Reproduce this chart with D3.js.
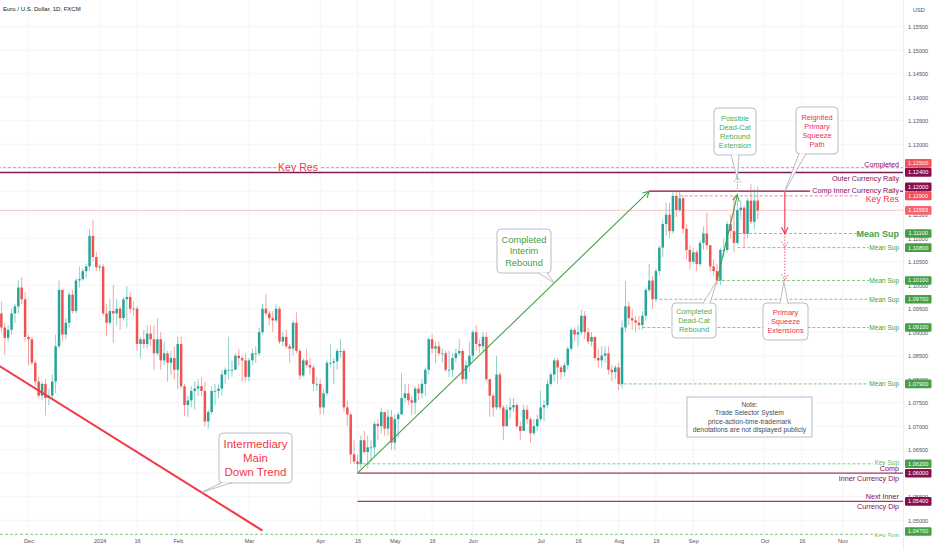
<!DOCTYPE html>
<meta charset="utf-8">

<script src="https://d3js.org/d3.v7.min.js"></script>

<div id="viz"></div>

<style>
  body { margin: 0; background: #fff; }
  svg { display: block; font-family: "Liberation Sans", Arial, sans-serif; }
  .axis path, .axis line { display: none; }
  .axis text { fill: #50535e; font-size: 5.6px; font-family: "Liberation Sans", Arial, sans-serif; }
</style>

<script>
// EUR/USD daily bars, one per weekday from startDay (open = previous close)
const startDay = "2023-11-20";
const prevClose = 1.0913;

const closes = [
  1.0940, 1.0910, 1.0888, 1.0905, 1.0940, 1.0955, 1.0995, 1.0970, 1.0890, // Nov
  1.0885, 1.0835, 1.0795, 1.0765, 1.0790, 1.0760, 1.0765, 1.0795, 1.0870, 1.0990, 1.0895,
  1.0920, 1.0980, 1.0945, 1.1010, 1.1013, 1.1030, 1.1040, 1.1105, 1.1060, 1.1038, // Dec
  1.1040, 1.0940, 1.0920, 1.0945, 1.0940, 1.0950, 1.0930, 1.0970, 1.0975, 1.0950, 1.0950, 1.0875,
  1.0885, 1.0875, 1.0897, 1.0885, 1.0855, 1.0885, 1.0840, 1.0855, 1.0835, 1.0845, 1.0820, // Jan
  1.0875, 1.0785, 1.0745, 1.0755, 1.0775, 1.0780, 1.0785, 1.0775, 1.0710, 1.0730, 1.0775,
  1.0775, 1.0780, 1.0810, 1.0820, 1.0820, 1.0820, 1.0850, 1.0845, 1.0840, 1.0805, // Feb
  1.0840, 1.0855, 1.0855, 1.0900, 1.0950, 1.0940, 1.0930, 1.0925, 1.0950, 1.0880, 1.0890,
  1.0870, 1.0865, 1.0920, 1.0860, 1.0808, 1.0840, 1.0830, 1.0825, 1.0790, 1.0790, // Mar
  1.0740, 1.0770, 1.0835, 1.0835, 1.0838, 1.0860, 1.0860, 1.0740, 1.0725, 1.0640, 1.0625,
  1.0620, 1.0670, 1.0645, 1.0655, 1.0655, 1.0705, 1.0700, 1.0730, 1.0695, 1.0720, 1.0665, // Apr
  1.0715, 1.0725, 1.0760, 1.0770, 1.0755, 1.0750, 1.0780, 1.0770, 1.0790, 1.0820, 1.0885, 1.0865,
  1.0870, 1.0855, 1.0855, 1.0820, 1.0820, 1.0845, 1.0855, 1.0860, 1.0800, 1.0830, 1.0850, // May
  1.0900, 1.0875, 1.0870, 1.0890, 1.0800, 1.0765, 1.0740, 1.0810, 1.0740, 1.0700,
  1.0735, 1.0740, 1.0745, 1.0700, 1.0690, 1.0735, 1.0715, 1.0685, 1.0700, 1.0715, // Jun
  1.0740, 1.0745, 1.0790, 1.0810, 1.0840, 1.0825, 1.0815, 1.0830, 1.0865, 1.0905, 1.0895, 1.0900,
  1.0935, 1.0900, 1.0880, 1.0890, 1.0845, 1.0840, 1.0850, 1.0855, 1.0820, 1.0815, 1.0825, // Jul
  1.0790, 1.0910, 1.0955, 1.0930, 1.0925, 1.0920, 1.0915, 1.0935, 1.0990, 1.1010, 1.0970,
  1.1030, 1.1080, 1.1130, 1.1150, 1.1115, 1.1190, 1.1160, 1.1185, 1.1120, 1.1075, 1.1050, // Aug
  1.1070, 1.1045, 1.1090, 1.1110, 1.1085, 1.1040, 1.1030, 1.1010, 1.1075, 1.1075,
  1.1130, 1.1115, 1.1090, 1.1160, 1.1165, 1.1110, 1.1180, 1.1135, 1.1180, 1.1159  // Sep
];

const highs = [
  1.0965, 1.0965, 1.0920, 1.0915, 1.0950, 1.0960, 1.1010, 1.1017, 1.0985,
  1.0895, 1.0890, 1.0840, 1.0805, 1.0795, 1.0800, 1.0780, 1.0810, 1.0895, 1.1010, 1.0990,
  1.0930, 1.0985, 1.0990, 1.1015, 1.1040, 1.1035, 1.1045, 1.1120, 1.1139, 1.1070,
  1.1045, 1.1045, 1.0960, 1.0970, 1.1000, 1.0970, 1.0955, 1.0975, 1.0998, 1.0985, 1.0965, 1.0955,
  1.0890, 1.0905, 1.0915, 1.0915, 1.0915, 1.0930, 1.0900, 1.0880, 1.0860, 1.0860, 1.0870,
  1.0890, 1.0890, 1.0790, 1.0765, 1.0785, 1.0795, 1.0800, 1.0805, 1.0795, 1.0735, 1.0785,
  1.0790, 1.0790, 1.0820, 1.0825, 1.0890, 1.0840, 1.0855, 1.0865, 1.0850, 1.0855,
  1.0845, 1.0865, 1.0870, 1.0910, 1.0960, 1.0981, 1.0945, 1.0945, 1.0960, 1.0955, 1.0900,
  1.0905, 1.0875, 1.0925, 1.0942, 1.0865, 1.0845, 1.0865, 1.0845, 1.0830, 1.0805,
  1.0800, 1.0780, 1.0840, 1.0875, 1.0845, 1.0865, 1.0885, 1.0865, 1.0755, 1.0730, 1.0670,
  1.0640, 1.0680, 1.0690, 1.0680, 1.0670, 1.0710, 1.0715, 1.0740, 1.0730, 1.0735, 1.0735,
  1.0725, 1.0730, 1.0812, 1.0790, 1.0790, 1.0765, 1.0785, 1.0790, 1.0800, 1.0825, 1.0890, 1.0895,
  1.0880, 1.0880, 1.0865, 1.0860, 1.0860, 1.0855, 1.0865, 1.0885, 1.0865, 1.0840, 1.0880,
  1.0905, 1.0915, 1.0885, 1.0900, 1.0900, 1.0785, 1.0770, 1.0850, 1.0815, 1.0745,
  1.0745, 1.0760, 1.0760, 1.0750, 1.0710, 1.0745, 1.0745, 1.0720, 1.0715, 1.0725,
  1.0775, 1.0755, 1.0800, 1.0815, 1.0845, 1.0845, 1.0830, 1.0835, 1.0870, 1.0910, 1.0910, 1.0915,
  1.0948, 1.0945, 1.0910, 1.0900, 1.0890, 1.0865, 1.0870, 1.0870, 1.0870, 1.0830, 1.0830,
  1.0835, 1.0925, 1.1009, 1.0965, 1.0950, 1.0935, 1.0935, 1.0945, 1.0995, 1.1045, 1.1020,
  1.1035, 1.1085, 1.1140, 1.1175, 1.1175, 1.1200, 1.1200, 1.1200, 1.1190, 1.1130, 1.1085,
  1.1080, 1.1075, 1.1095, 1.1125, 1.1155, 1.1080, 1.1055, 1.1045, 1.1080, 1.1100,
  1.1135, 1.1150, 1.1190, 1.1180, 1.1180, 1.1170, 1.1185, 1.1215, 1.1205, 1.1210
];

const lows = [
  1.0905, 1.0900, 1.0852, 1.0880, 1.0895, 1.0920, 1.0940, 1.0960, 1.0880,
  1.0830, 1.0830, 1.0785, 1.0760, 1.0755, 1.0723, 1.0745, 1.0755, 1.0770, 1.0865, 1.0880,
  1.0885, 1.0910, 1.0940, 1.0940, 1.0995, 1.1010, 1.1015, 1.1030, 1.1050, 1.1030,
  1.1030, 1.0935, 1.0892, 1.0915, 1.0877, 1.0915, 1.0905, 1.0925, 1.0910, 1.0940, 1.0935, 1.0860,
  1.0845, 1.0865, 1.0865, 1.0870, 1.0820, 1.0850, 1.0820, 1.0830, 1.0795, 1.0810, 1.0800,
  1.0780, 1.0780, 1.0722, 1.0720, 1.0740, 1.0735, 1.0765, 1.0765, 1.0700, 1.0695, 1.0725,
  1.0745, 1.0760, 1.0765, 1.0790, 1.0800, 1.0805, 1.0820, 1.0830, 1.0795, 1.0795,
  1.0795, 1.0830, 1.0835, 1.0850, 1.0895, 1.0935, 1.0915, 1.0900, 1.0920, 1.0875, 1.0870,
  1.0865, 1.0835, 1.0850, 1.0855, 1.0800, 1.0805, 1.0825, 1.0810, 1.0775, 1.0775,
  1.0725, 1.0725, 1.0765, 1.0825, 1.0790, 1.0820, 1.0845, 1.0730, 1.0700, 1.0620, 1.0620,
  1.0601, 1.0610, 1.0640, 1.0610, 1.0625, 1.0635, 1.0670, 1.0685, 1.0680, 1.0680, 1.0650,
  1.0650, 1.0675, 1.0725, 1.0750, 1.0745, 1.0725, 1.0725, 1.0755, 1.0760, 1.0765, 1.0810, 1.0855,
  1.0835, 1.0850, 1.0835, 1.0815, 1.0805, 1.0805, 1.0835, 1.0850, 1.0790, 1.0790, 1.0815,
  1.0840, 1.0860, 1.0855, 1.0860, 1.0795, 1.0720, 1.0720, 1.0735, 1.0735, 1.0670,
  1.0700, 1.0715, 1.0730, 1.0695, 1.0670, 1.0690, 1.0705, 1.0665, 1.0680, 1.0690,
  1.0710, 1.0710, 1.0740, 1.0785, 1.0795, 1.0790, 1.0800, 1.0805, 1.0820, 1.0860, 1.0880, 1.0870,
  1.0895, 1.0885, 1.0875, 1.0870, 1.0840, 1.0825, 1.0825, 1.0835, 1.0810, 1.0795, 1.0800,
  1.0777, 1.0780, 1.0900, 1.0915, 1.0905, 1.0900, 1.0905, 1.0905, 1.0925, 1.0985, 1.0950,
  1.0965, 1.1020, 1.1060, 1.1105, 1.1100, 1.1110, 1.1145, 1.1155, 1.1110, 1.1055, 1.1035,
  1.1045, 1.1030, 1.1040, 1.1075, 1.1075, 1.1030, 1.1020, 1.1000, 1.1000, 1.1060,
  1.1070, 1.1100, 1.1070, 1.1085, 1.1140, 1.1080, 1.1100, 1.1130, 1.1120, 1.1140
];

const lastPrice = 1.11593;

// axis ticks
const priceTicks = [1.155, 1.150, 1.145, 1.140, 1.135, 1.130, 1.125, 1.120, 1.115, 1.110, 1.105,
  1.100, 1.095, 1.090, 1.085, 1.080, 1.075, 1.070, 1.065, 1.060, 1.055, 1.050];
const timeTickDates = ["2023-12-01", "2024-01-01", "2024-01-16", "2024-02-01", "2024-03-01", "2024-04-01",
  "2024-04-16", "2024-05-01", "2024-05-16", "2024-06-03", "2024-07-01", "2024-07-16", "2024-08-01",
  "2024-08-16", "2024-09-02", "2024-10-01", "2024-10-16", "2024-11-01"];
const timeTickLabels = ["Dec", "2024", "16", "Feb", "Mar", "Apr", "16", "May", "16", "Jun", "Jul", "16",
  "Aug", "16", "Sep", "Oct", "16", "Nov"];

// drawn levels
const keyResLevels = [1.125, 1.119];
const keyResStarts = ["2023-11-20", "2024-08-27"];
const rallyLevels = [1.124, 1.120];
const rallyStarts = ["2023-11-20", "2024-08-14"];
const meanSupLevels = [1.111, 1.108, 1.101, 1.097, 1.091, 1.079];
const meanSupStarts = ["2024-09-18", "2024-09-19", "2024-09-11", "2024-08-19", "2024-08-12", "2024-08-01"];
const keySupLevels = [1.062, 1.047];
const keySupStarts = ["2024-04-16", "2023-11-20"];
const dipLevels = [1.060, 1.054];
const dipStarts = ["2024-04-16", "2024-04-16"];

// trend lines [date, price]
const downTrend = [["2023-11-20", 1.0830], ["2024-03-07", 1.0478]];
const interimRebound = [["2024-04-16", 1.0600], ["2024-08-14", 1.1200]];
const deadCat = [["2024-09-11", 1.1010], ["2024-09-19", 1.1192]];
const deadCatExt = [["2024-09-19", 1.1192], ["2024-09-19", 1.1232]];
const squeezeDay = "2024-10-09";
const squeezePath = [1.120, 1.111];
const squeezeExt = [1.111, 1.108, 1.101];

// ---------------------------------------------------------------
const W = 932, H = 550, plotR = 903, plotB = 537;

const svg = d3.select("#viz").append("svg")
  .attr("width", W).attr("height", H);

const parse = d3.timeParse("%Y-%m-%d");
const t0 = parse(startDay);
function dayIndex(s) {
  return d3.timeDay.range(t0, parse(s)).filter(d => d.getDay() % 6 !== 0).length;
}

const x = d3.scaleLinear().domain([9, 249]).range([28.5, 842.5]);
const y = d3.scaleLinear().domain([1.155, 1.050]).range([26.7, 520.2]);
const X = s => x(dayIndex(s));

svg.append("clipPath").attr("id", "plot")
  .append("rect").attr("width", plotR).attr("height", plotB);

// grid
const grid = svg.append("g").attr("clip-path", "url(#plot)");
grid.selectAll(".hg").data(priceTicks).enter().append("line")
  .attr("x1", 0).attr("x2", plotR).attr("y1", d => y(d)).attr("y2", d => y(d))
  .attr("stroke", "#f2f3f7").attr("stroke-width", 0.8);
grid.selectAll(".vg").data(timeTickDates).enter().append("line")
  .attr("x1", d => X(d)).attr("x2", d => X(d)).attr("y1", 0).attr("y2", plotB)
  .attr("stroke", "#f2f3f7").attr("stroke-width", 0.8);

const plot = svg.append("g").attr("clip-path", "url(#plot)");

// horizontal level helper
function hline(price, x0, x1, color, w, dash) {
  return plot.append("line")
    .attr("x1", x0).attr("x2", x1).attr("y1", y(price)).attr("y2", y(price))
    .attr("stroke", color).attr("stroke-width", w)
    .attr("stroke-dasharray", dash || null);
}
function label(txt, tx, ty, color, size, weight, anchor) {
  plot.append("text").attr("x", tx).attr("y", ty).attr("dy", "0.35em")
    .attr("text-anchor", anchor || "end")
    .attr("fill", color).style("font-size", size + "px")
    .style("font-weight", weight || "normal").text(txt);
}

const PURPLE = "#880e4f", DIP = "#b0306a", PINK = "#f06292", RED = "#f23645",
      GREEN = "#43a047", GREENL = "#66bb6a";

// last price line
hline(lastPrice, 0, plotR, "#f7525f", 0.7).attr("opacity", 0.45);

// key res (dashed pink)
hline(keyResLevels[0], X(keyResStarts[0]), 276, PINK, 0.8, "3,2");
hline(keyResLevels[0], 321, plotR, PINK, 0.8, "3,2");
label("Key Res", 298, y(keyResLevels[0]), RED, 10.6, "normal", "middle");
hline(keyResLevels[1], X(keyResStarts[1]), 860, PINK, 0.8, "3,2");

// rally levels (solid purple)
hline(rallyLevels[0], X(rallyStarts[0]), plotR, "#7b1d55", 1.5);
hline(rallyLevels[1], X(rallyStarts[1]), 810, PURPLE, 1.2);
hline(rallyLevels[1], 900, plotR, PURPLE, 1.2);
label("Completed", 899, y(keyResLevels[0]) - 3.5, PURPLE, 7.2);
label("Outer Currency Rally", 899, y(rallyLevels[0]) + 6, PURPLE, 7.2);
label("Comp Inner Currency Rally", 899, y(rallyLevels[1]) - 1.2, PURPLE, 7.2);
label("Key Res", 899, y(keyResLevels[1]) + 3, RED, 8.8);

// mean sups
meanSupLevels.forEach((p, i) => {
  const big = i === 0;
  hline(p, X(meanSupStarts[i]), big ? 857 : 869, GREENL, 0.8, "3,2");
  label("Mean Sup", 899, y(p), GREEN, big ? 9 : 6.5, big ? "bold" : "normal");
});

// key sups
hline(keySupLevels[0], X(keySupStarts[0]), 873, GREENL, 0.8, "3,2");
label("Key Sup", 899, y(keySupLevels[0]) - 1.5, GREENL, 6.5);
hline(keySupLevels[1], 0, 873, GREENL, 0.8, "3,2");
label("Key Sup", 899, y(keySupLevels[1]) + 1, GREENL, 6.5);

// currency dips
dipLevels.forEach((p, i) => hline(p, X(dipStarts[i]), plotR, DIP, 1.2));
label("Comp", 899, y(dipLevels[0]) - 4.5, PURPLE, 7.2);
label("Inner Currency Dip", 899, y(dipLevels[0]) + 5.5, PURPLE, 7.2);
label("Next Inner", 899, y(dipLevels[1]) - 4.5, PURPLE, 7.2);
label("Currency Dip", 899, y(dipLevels[1]) + 5.5, PURPLE, 7.2);

// candles
const bars = closes.map((c, i) => {
  const o = i ? closes[i - 1] : prevClose;
  return { i, o, c, h: Math.max(highs[i], o, c), l: Math.min(lows[i], o, c) };
});
const UP = "#26a69a", DOWN = "#ef5350";
const cg = plot.append("g");
cg.selectAll(".wick").data(bars).enter().append("line")
  .attr("x1", d => x(d.i)).attr("x2", d => x(d.i))
  .attr("y1", d => y(d.h)).attr("y2", d => y(d.l))
  .attr("stroke", d => d.c >= d.o ? UP : DOWN).attr("stroke-width", 0.7).attr("opacity", 0.75);
cg.selectAll(".body").data(bars).enter().append("rect")
  .attr("x", d => x(d.i) - 1.25).attr("width", 2.5)
  .attr("y", d => y(Math.max(d.o, d.c)))
  .attr("height", d => Math.max(0.8, Math.abs(y(d.o) - y(d.c))))
  .attr("fill", d => d.c >= d.o ? UP : DOWN);

// trend lines
const P = pt => [X(pt[0]), y(pt[1])];
function seg(line, color, w, dash) {
  const a = P(line[0]), b = P(line[1]);
  plot.append("line").attr("x1", a[0]).attr("y1", a[1]).attr("x2", b[0]).attr("y2", b[1])
    .attr("stroke", color).attr("stroke-width", w).attr("stroke-dasharray", dash || null);
  return [a, b];
}
function head(a, b, color, w, dash) {
  const ang = Math.atan2(b[1] - a[1], b[0] - a[0]), L = 7, s = 0.5;
  const p1 = [b[0] - L * Math.cos(ang - s), b[1] - L * Math.sin(ang - s)];
  const p2 = [b[0] - L * Math.cos(ang + s), b[1] - L * Math.sin(ang + s)];
  plot.append("path").attr("d", `M${p1}L${b}L${p2}`)
    .attr("fill", "none").attr("stroke", color).attr("stroke-width", w)
    .attr("stroke-dasharray", dash || null);
}

seg(downTrend, RED, 2);
const ir = seg(interimRebound, "#43a047", 1.1);
head(ir[0], ir[1], "#43a047", 1.1);
const dc = seg(deadCat, "#43a047", 1.1);
head(dc[0], dc[1], "#43a047", 1.1);
const dx = seg(deadCatExt, "#66bb6a", 1, "1.5,1.5");
head(dx[0], dx[1], "#66bb6a", 1, "1.5,1.5");

const sqx = X(squeezeDay);
plot.append("line").attr("x1", sqx).attr("x2", sqx)
  .attr("y1", y(squeezePath[0])).attr("y2", y(squeezePath[1]))
  .attr("stroke", RED).attr("stroke-width", 1.1);
head([sqx, y(squeezePath[0])], [sqx, y(squeezePath[1])], RED, 1.1);
plot.append("line").attr("x1", sqx).attr("x2", sqx)
  .attr("y1", y(squeezeExt[0])).attr("y2", y(squeezeExt[2]))
  .attr("stroke", "#f0607a").attr("stroke-width", 1).attr("stroke-dasharray", "1.5,1.5");
squeezeExt.slice(1).forEach(p => head([sqx, y(p) - 10], [sqx, y(p)], "#f0607a", 1, "1.5,1.5"));

// callouts
function lineAt(line, day) {
  const i0 = dayIndex(line[0][0]), i1 = dayIndex(line[1][0]), i = dayIndex(day);
  return [x(i), y(line[0][1] + (line[1][1] - line[0][1]) * (i - i0) / (i1 - i0))];
}
function callout(lines, color, size, box, tail, target) {
  const g = plot.append("g");
  g.append("rect").attr("x", box[0]).attr("y", box[1]).attr("width", box[2]).attr("height", box[3])
    .attr("rx", tail ? 4 : 0).attr("fill", "#fff").attr("stroke", "#a9acb5").attr("stroke-width", 0.8);
  if (tail) {
    g.append("path").attr("d", `M${tail[0]}L${target}L${tail[1]}Z`).attr("fill", "#fff");
    g.append("path").attr("d", `M${tail[0]}L${target}L${tail[1]}`)
      .attr("fill", "none").attr("stroke", "#a9acb5").attr("stroke-width", 0.8);
  }
  const lh = size * 1.22, cy = box[1] + box[3] / 2 - (lines.length - 1) * lh / 2;
  lines.forEach((t, k) => g.append("text")
    .attr("x", box[0] + box[2] / 2).attr("y", cy + k * lh).attr("dy", "0.35em")
    .attr("text-anchor", "middle").attr("fill", color).style("font-size", size + "px").text(t));
}

callout(["Intermediary", "Main", "Down Trend"], RED, 11.5,
  [219, 433, 73, 50], [[222, 482.5], [232, 482.5]], lineAt(downTrend, "2024-02-12"));
callout(["Completed", "Interim", "Rebound"], "#43a047", 9.3,
  [497, 229, 54, 44], [[538, 272.5], [547, 272.5]], lineAt(interimRebound, "2024-07-05"));
callout(["Completed", "Dead-Cat", "Rebound"], "#4caf50", 7.4,
  [672, 303, 44, 35], [[703, 303.5], [710, 303.5]], lineAt(deadCat, "2024-09-11"));
callout(["Possible", "Dead-Cat", "Rebound", "Extension"], "#4caf50", 7.4,
  [714, 108, 42, 47], [[731, 154.5], [739, 154.5]], [X(deadCatExt[1][0]), y(deadCatExt[1][1]) + 3]);
callout(["Reignited", "Primary", "Squeeze", "Path"], "#ec2f5b", 7.4,
  [796, 107, 42, 47], [[799, 153.5], [806, 153.5]], [sqx, y(squeezePath[0])]);
callout(["Primary", "Squeeze", "Extensions"], "#ec2f5b", 7.4,
  [763, 303, 45, 37], [[780, 303.5], [788, 303.5]], [sqx - 1, y(squeezeExt[2]) + 1]);
callout(["Note:", "Trade Selector System", "price-action-time-trademark",
  "denotations are not displayed publicly"], "#4a4d57", 6.8, [687, 397, 125, 40], null, null);

// axes
svg.append("line").attr("x1", plotR + 0.5).attr("x2", plotR + 0.5).attr("y1", 0).attr("y2", H)
  .attr("stroke", "#eceef2");
svg.append("g").attr("class", "axis")
  .attr("transform", `translate(${plotR + 1},0)`)
  .call(d3.axisRight(y).tickValues(priceTicks).tickFormat(d3.format(".5f")).tickSize(0).tickPadding(4))
  .selectAll("text").attr("dy", "0.35em");
svg.append("g").attr("class", "axis")
  .attr("transform", `translate(0,${plotB + 2})`)
  .call(d3.axisBottom(x).tickValues(timeTickDates.map(dayIndex))
    .tickFormat((d, i) => timeTickLabels[i]).tickSize(0).tickPadding(0));
svg.append("text").attr("x", 913).attr("y", 10).attr("dy", "0.35em")
  .attr("fill", "#50535e").style("font-size", "5.6px").text("USD");

// price labels on the scale
const tags = [];
keyResLevels.forEach(p => tags.push({ p, c: "#f44f5c" }));
rallyLevels.forEach(p => tags.push({ p, c: PURPLE }));
tags.push({ p: lastPrice, c: "#f7646d" });
meanSupLevels.forEach(p => tags.push({ p, c: GREEN }));
keySupLevels.forEach(p => tags.push({ p, c: GREEN }));
dipLevels.forEach(p => tags.push({ p, c: PURPLE }));
tags.forEach(t => t.ty = Math.min(y(t.p), 531.5));
tags.sort((a, b) => b.ty - a.ty);
const TH = 9;
for (let k = 1; k < tags.length; k++) {
  if (tags[k - 1].ty - tags[k].ty < TH) tags[k].ty = tags[k - 1].ty - TH;
}
const tg = svg.append("g");
tg.selectAll("rect").data(tags).enter().append("rect")
  .attr("x", 905).attr("y", d => d.ty - 4.3).attr("width", 26.5).attr("height", 8.6)
  .attr("rx", 1).attr("fill", d => d.c);
tg.selectAll("text").data(tags).enter().append("text")
  .attr("x", 918.2).attr("y", d => d.ty).attr("dy", "0.35em").attr("text-anchor", "middle")
  .attr("fill", "#fff").style("font-size", "5.6px").text(d => d3.format(".5f")(d.p));

// title
svg.append("text").attr("x", 3).attr("y", 9.3).attr("dy", "0.35em")
  .attr("fill", "#131722").style("font-size", "6px").text("Euro / U.S. Dollar, 1D, FXCM");
</script>
